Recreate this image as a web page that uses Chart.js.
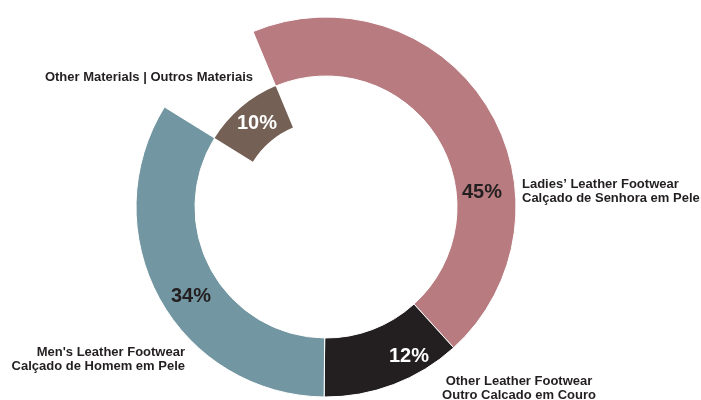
<!DOCTYPE html>
<html>
<head>
<meta charset="utf-8">
<script src="https://cdn.jsdelivr.net/npm/chart.js@4.4.0/dist/chart.umd.min.js"></script>
<style>
  html, body { margin: 0; padding: 0; background: #fff; }
  #wrap { width: 701px; height: 400px; position: relative; }
</style>
</head>
<body>
<div id="wrap"><canvas id="chart"></canvas></div>
<script>
const categories = ["Ladies\u2019 Leather Footwear", 'Other Leather Footwear', "Men's Leather Footwear", 'Other Materials'];
const categoriesPt = ['Cal\u00e7ado de Senhora em Pele', 'Outro Calcado em Couro', 'Cal\u00e7ado de Homem em Pele', 'Outros Materiais'];
const shares = [45, 12, 34, 10];
const colors = ['#b87c80', '#231f20', '#7397a2', '#746055'];
const pctColors = ['#231f20', '#ffffff', '#231f20', '#ffffff'];

// Other Materials sits on the inner ring, the rest on the outer ring
const onInner = [false, false, false, true];
const clear = 'rgba(0,0,0,0)';

const textFont = 'bold 13px "Liberation Sans", Arial, sans-serif';
const pctFont = 'bold 20px "Liberation Sans", Arial, sans-serif';

// text spots relative to the doughnut centre
const pctSpots = [[156, -15], [83, 149], [-135, 89], [-69, -84]];
const nameSpots = [
  { x: 196, y: -23, align: 'left' },
  { x: 193, y: 174, align: 'center' },
  { x: -141, y: 145.5, align: 'right' },
  { x: -73, y: -130, align: 'right' }
];

const labelPlugin = {
  id: 'sliceLabels',
  afterDatasetsDraw(chart) {
    const arc = chart.getDatasetMeta(0).data[0];
    const cx = arc.x, cy = arc.y;
    const ctx = chart.ctx;
    ctx.save();
    ctx.textBaseline = 'middle';

    ctx.font = pctFont;
    ctx.textAlign = 'center';
    shares.forEach((v, i) => {
      ctx.fillStyle = pctColors[i];
      ctx.fillText(v + '%', cx + pctSpots[i][0], cy + pctSpots[i][1]);
    });

    ctx.font = textFont;
    ctx.fillStyle = '#231f20';
    categories.forEach((name, i) => {
      const s = nameSpots[i];
      ctx.textAlign = s.align;
      if (i === 3) {
        ctx.fillText(name + ' | ' + categoriesPt[i], cx + s.x, cy + s.y);
      } else {
        ctx.fillText(name, cx + s.x, cy + s.y);
        ctx.fillText(categoriesPt[i], cx + s.x, cy + s.y + 14);
      }
    });
    ctx.restore();
  }
};

new Chart(document.getElementById('chart'), {
  type: 'doughnut',
  data: {
    labels: categories,
    datasets: [
      {
        data: shares,
        weight: 59,
        backgroundColor: colors.map((c, i) => onInner[i] ? clear : c),
        borderColor: '#ffffff',
        borderWidth: onInner.map(f => f ? 0 : 1)
      },
      {
        data: shares,
        weight: 45,
        backgroundColor: colors.map((c, i) => onInner[i] ? c : clear),
        borderWidth: 0
      }
    ]
  },
  options: {
    responsive: true,
    maintainAspectRatio: false,
    animation: false,
    events: [],
    rotation: -22.6,
    radius: 190,
    cutout: '45.26%',
    layout: { padding: { left: 0, right: 49, top: 14, bottom: 0 } },
    plugins: {
      legend: { display: false },
      tooltip: { enabled: false }
    }
  },
  plugins: [labelPlugin]
});
</script>
</body>
</html>
